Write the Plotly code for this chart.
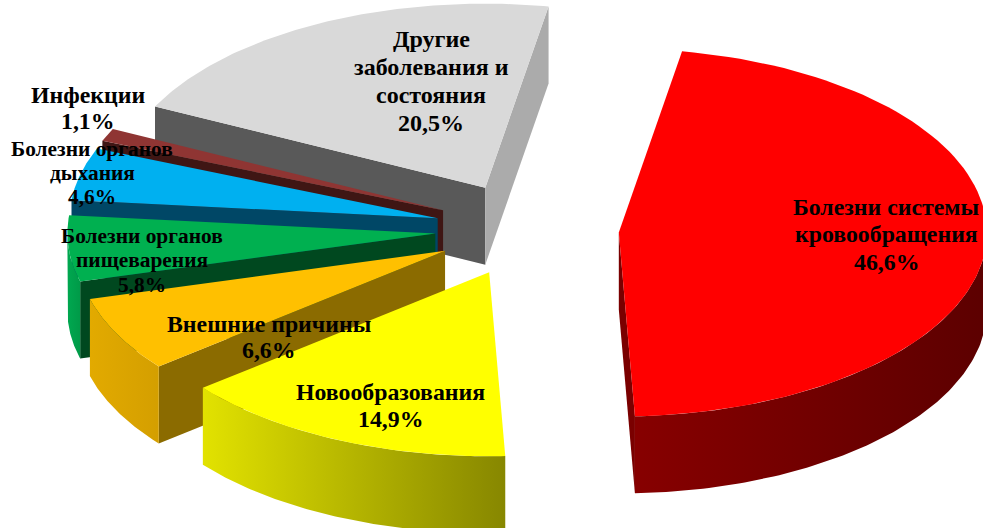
"""Разъёмная объёмная круговая диаграмма: структура причин смертности."""
import math

import plotly.graph_objects as go

# данные
CATEGORIES = [
    "Болезни системы<br>кровообращения",
    "Новообразования",
    "Внешние причины",
    "Болезни органов<br>пищеварения",
    "Болезни органов<br>дыхания",
    "Инфекции",
    "Другие<br>заболевания и<br>состояния",
]
VALUES = [46.6, 14.9, 6.6, 5.8, 4.6, 1.1, 20.5]

# цвета: верх, стенка начала сектора, стенка конца сектора, дуга слева, дуга справа
TOP_COLORS = ["#ff0000", "#ffff00", "#ffc000", "#00b050", "#00b0f0", "#8f3533", "#d9d9d9"]
START_WALL = ["#800000", "#808000", "#8b6b00", "#00481f", "#004766", "#3f1614", "#595959"]
END_WALL = ["#7a0000", "#808000", "#8b6b00", "#00481f", "#004766", "#3f1614", "#ababab"]
RIM_LEFT = ["#870000", "#e2e200", "#e2aa00", "#00a850", "#0088c0", "#6a2422", "#a0a0a0"]
RIM_RIGHT = ["#5c0000", "#878700", "#d49f00", "#009a48", "#0088c0", "#6a2422", "#a0a0a0"]

# геометрия проекции
CX, CY = 527.0, 229.5
RX, RY = 368.0, 184.0
DEPTH = 77.0
EXPLODE = 0.25
EXPLODE_Y = 0.255
FIRST_ANGLE = 9.9

# подписи: центр блока, кегль и шаг строк
LABEL_X = [886, 390, 269, 142, 92, 88, 431]
LABEL_Y = [234, 405, 337, 260, 173, 108, 81]
LABEL_SIZE = [23.8, 23.8, 23.8, 21.4, 21.4, 23.8, 24]
LABEL_PITCH = [27.5, 27, 26, 24.5, 24, 26, 27.7]


def _arc(ox, oy, a0, a1, steps=90):
    pts = []
    for i in range(steps + 1):
        a = math.radians(a0 + (a1 - a0) * i / steps)
        pts.append((ox + RX * math.sin(a), oy - RY * math.cos(a)))
    return pts


def _poly(fig, pts, color=None, gradient=None):
    xs = [p[0] for p in pts] + [pts[0][0]]
    ys = [p[1] for p in pts] + [pts[0][1]]
    kw = dict(fillcolor=color) if color else dict(
        fillgradient=dict(type="horizontal", colorscale=[[0, gradient[0]], [1, gradient[1]]])
    )
    fig.add_trace(go.Scatter(
        x=xs, y=ys, mode="lines", fill="toself",
        line=dict(width=0), hoverinfo="skip", showlegend=False, **kw,
    ))


def _wall_visible(apex, rim, inner):
    dx, dy = rim[0] - apex[0], rim[1] - apex[1]
    side_inner = dx * (inner[1] - apex[1]) - dy * (inner[0] - apex[0])
    side_down = dx * 1.0
    return side_inner * side_down < 0


def _add_slice(fig, i, a0, a1):
    mid = math.radians((a0 + a1) / 2)
    ox = CX + EXPLODE * RX * math.sin(mid)
    oy = CY - EXPLODE_Y * RY * math.cos(mid)
    apex = (ox, oy)
    rim = _arc(ox, oy, a0, a1)
    inner = (ox + 0.5 * RX * math.sin(mid), oy - 0.5 * RY * math.cos(mid))

    for p, color in ((rim[0], START_WALL[i]), (rim[-1], END_WALL[i])):
        if _wall_visible(apex, p, inner):
            _poly(fig, [apex, p, (p[0], p[1] + DEPTH), (ox, oy + DEPTH)], color=color)

    lo, hi = max(a0, 90.0), min(a1, 270.0)
    if lo < hi:
        front = _arc(ox, oy, lo, hi)
        lower = [(x, y + DEPTH) for x, y in reversed(front)]
        _poly(fig, front + lower, gradient=(RIM_LEFT[i], RIM_RIGHT[i]))

    _poly(fig, [apex] + rim, color=TOP_COLORS[i])


fig = go.Figure()

total = sum(VALUES)
bounds = []
angle = FIRST_ANGLE
for v in VALUES:
    bounds.append((angle, angle + v / total * 360.0))
    angle += v / total * 360.0

# порядок рисования: от дальних секторов к ближним
for i in [6, 5, 4, 3, 2, 1, 0]:
    _add_slice(fig, i, *bounds[i])

# каждая строка подписи отдельно, чтобы держать шаг строк
for i, name in enumerate(CATEGORIES):
    lines = name.split("<br>") + [f"{str(VALUES[i]).replace('.', ',')}%"]
    top = LABEL_Y[i] - LABEL_PITCH[i] * (len(lines) - 1) / 2
    for k, line in enumerate(lines):
        fig.add_annotation(
            x=LABEL_X[i], y=top + k * LABEL_PITCH[i], text=f"<b>{line}</b>", showarrow=False,
            font=dict(family="Liberation Serif", size=LABEL_SIZE[i], color="#000000"),
            align="center",
        )

fig.update_layout(
    width=983, height=528,
    margin=dict(l=0, r=0, t=0, b=0),
    paper_bgcolor="#ffffff", plot_bgcolor="#ffffff",
    xaxis=dict(range=[0, 983], visible=False),
    yaxis=dict(range=[528, 0], visible=False),
)

fig.write_html(
    "out.html",
    config=dict(displayModeBar=False),
    post_script="document.body.style.margin='0';",
)
